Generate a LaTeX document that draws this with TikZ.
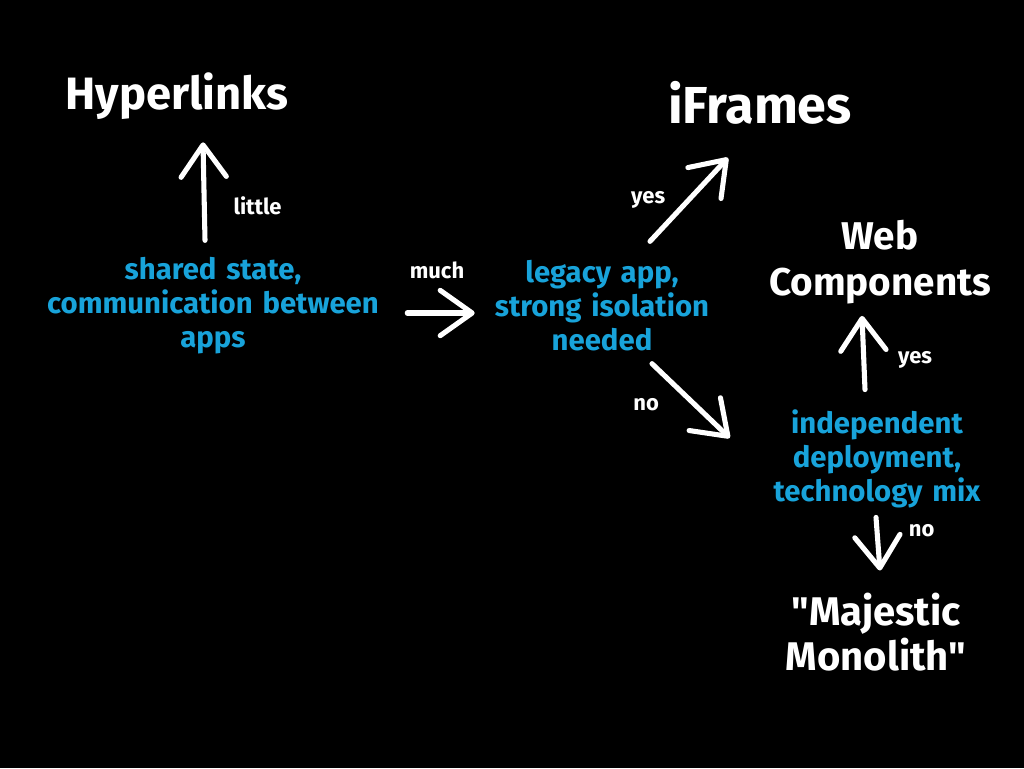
\documentclass[tikz,border=0pt]{standalone}
\usepackage{fontspec}
\setmainfont{Fira Sans}[Ligatures=TeXOff]
\usepackage{xcolor}
\usepackage{tikz}
\usetikzlibrary{arrows.meta, positioning}
\definecolor{questionblue}{RGB}{24,163,218}
\tikzstyle{answer} = [text=white, font=\bfseries\fontsize{30}{34}\selectfont, align=center, inner sep=0pt]
\tikzstyle{question} = [text=questionblue, font=\bfseries\fontsize{22}{25.5}\selectfont, align=center, inner sep=0pt]
\tikzstyle{lbl} = [text=white, font=\bfseries\fontsize{16.5}{18}\selectfont, inner sep=0pt]
\tikzstyle{arrow} = [draw=white, line width=3.8pt, line cap=round, -{Straight Barb[length=24pt, width=34pt, round]}]

\begin{document}
\begin{tikzpicture}[x=0.75pt, y=-0.75pt]
\fill [black] (0,0) rectangle (1024,768);
\useasboundingbox (0,0) rectangle (1024,768);

\node (shared) [question, text width=270pt] at (213,306) {shared state,\\communication between\\apps};
\node (legacy) [question, text width=180pt] at (602,306) {legacy app,\\strong isolation\\needed};
\node (indep) [question, text width=180pt] at (877,459) {independent\\deployment,\\technology mix};

\node (hyper) [answer, font=\bfseries\fontsize{34}{36}\selectfont] at (177,96) {Hyperlinks};
\node (iframes) [answer, font=\bfseries\fontsize{39}{42}\selectfont] at (760,103) {iFrames};
\node (webcomp) [answer, font=\bfseries\fontsize{29}{34}\selectfont] at (880,262) {Web\\Components};
\node (majestic) [answer] at (876,632) {"Majestic\\Monolith"};

\draw [arrow] ([shift={(-6pt,12.75pt)}]shared.north) -- ([shift={(19.5pt,-17pt)}]hyper.south)
  node [lbl, pos=0.35, right=20pt] {little};
\draw [arrow] ([shift={(10.5pt,-5.25pt)}]shared.east) -- ([shift={(-5.25pt,-5.25pt)}]legacy.west)
  node [lbl, midway, above=24pt, xshift=-3pt] {much};
\draw [arrow] ([shift={(36pt,14.25pt)}]legacy.north) -- ([shift={(-24pt,-24.75pt)}]iframes.south)
  node [lbl, midway, left=16pt] {yes};
\draw [arrow] ([shift={(37.5pt,-9pt)}]legacy.south) -- ([shift={(-20.25pt,15.75pt)}]indep.west)
  node [lbl, midway, left=22pt, yshift=-3pt] {no};
\draw [arrow] ([shift={(-9pt,15pt)}]indep.north) -- ([shift={(-13.5pt,-9pt)}]webcomp.south)
  node [lbl, midway, right=24pt, yshift=-5pt] {yes};
\draw [arrow] ([shift={(-0.75pt,-6.75pt)}]indep.south) -- ([shift={(3pt,16.5pt)}]majestic.north)
  node [lbl, pos=0.25, right=22pt] {no};
\end{tikzpicture}
\end{document}
